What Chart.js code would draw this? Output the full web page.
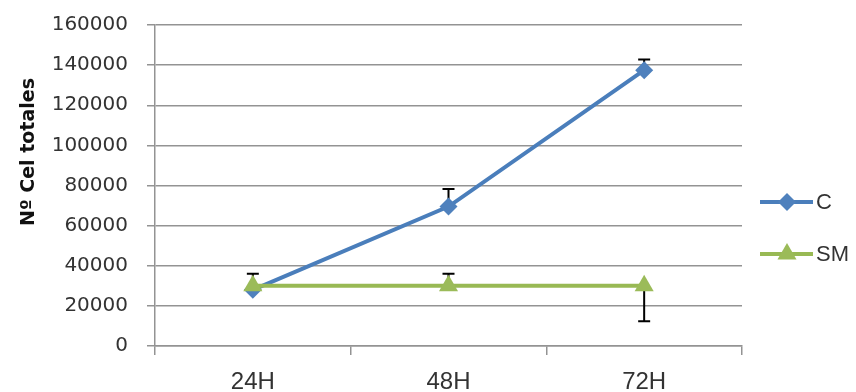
<!DOCTYPE html>
<html>
<head>
<meta charset="utf-8">
<title>Nº Cel totales</title>
<script src="https://cdn.jsdelivr.net/npm/chart.js@4/dist/chart.umd.min.js"></script>
<style>
  html, body { margin: 0; padding: 0; background: #fff; }
  #wrap { width: 856px; height: 392px; position: relative; }
</style>
</head>
<body>
<div id="wrap"><canvas id="cells"></canvas></div>
<script>
var categories = ['24H', '48H', '72H'];
var cValues = [28000, 69500, 137500];
var smValues = [30000, 30000, 30000];
// error bars, upper and lower arms
var cErrUp = [0, 8800, 5300];
var cErrDown = [0, 0, 0];
var smErrUp = [6000, 6000, 0];
var smErrDown = [0, 0, 17700];
var yTicks = [0, 20000, 40000, 60000, 80000, 100000, 120000, 140000, 160000];

(function () {
    'use strict';

    var FONT = 'DejaVu Sans';
    var TEXT = '#333333';
    var GRID = '#939393';

    var errors = [
        { up: cErrUp, down: cErrDown },
        { up: smErrUp, down: smErrDown }
    ];

    // black whiskers with caps, under the markers
    var errorBars = {
        id: 'errorBars',
        beforeDatasetsDraw: function (chart) {
            var ctx = chart.ctx, y = chart.scales.y;
            ctx.save();
            ctx.strokeStyle = '#000';
            ctx.lineWidth = 2;
            chart.data.datasets.forEach(function (ds, i) {
                var meta = chart.getDatasetMeta(i);
                meta.data.forEach(function (pt, j) {
                    var v = ds.data[j];
                    [errors[i].up[j], -errors[i].down[j]].forEach(function (e) {
                        if (!e) { return; }
                        var y0 = y.getPixelForValue(v), y1 = y.getPixelForValue(v + e);
                        ctx.beginPath();
                        ctx.moveTo(pt.x, y0);
                        ctx.lineTo(pt.x, y1);
                        ctx.moveTo(pt.x - 6, y1);
                        ctx.lineTo(pt.x + 6, y1);
                        ctx.stroke();
                    });
                });
            });
            ctx.restore();
        }
    };

    // rotated axis title and line+marker legend on the right
    var extras = {
        id: 'extras',
        afterDraw: function (chart) {
            var ctx = chart.ctx;
            ctx.save();
            ctx.fillStyle = '#111';
            ctx.font = 'bold 19px "' + FONT + '"';
            ctx.textAlign = 'center';
            ctx.textBaseline = 'middle';
            ctx.translate(29, 152);
            ctx.rotate(-Math.PI / 2);
            ctx.fillText('Nº Cel totales', 0, 0);
            ctx.restore();

            var rows = [202, 254];
            chart.data.datasets.forEach(function (ds, i) {
                var ly = rows[i];
                ctx.save();
                ctx.strokeStyle = ds.borderColor;
                ctx.lineWidth = ds.borderWidth;
                ctx.beginPath();
                ctx.moveTo(760, ly);
                ctx.lineTo(813, ly);
                ctx.stroke();
                ctx.fillStyle = ds.pointBackgroundColor;
                Chart.helpers.drawPoint(ctx, {
                    pointStyle: ds.pointStyle,
                    radius: ds.pointRadius,
                    borderWidth: 0
                }, 787, ly);
                ctx.fillStyle = TEXT;
                ctx.font = '22px "Liberation Sans"';
                ctx.textAlign = 'left';
                ctx.textBaseline = 'middle';
                ctx.fillText(ds.label, 816, ly + 1);
                ctx.restore();
            });
        }
    };

    var ctx = document.getElementById('cells').getContext('2d');
    new Chart(ctx, {
        type: 'line',
        data: {
            labels: categories,
            datasets: [{
                label: 'C',
                data: cValues,
                borderColor: '#4A7EBB',
                borderWidth: 4,
                pointStyle: 'rectRot',
                pointRadius: 9,
                pointBackgroundColor: '#4F81BD',
                pointBorderWidth: 0,
                tension: 0,
                order: 2
            }, {
                label: 'SM',
                data: smValues,
                borderColor: '#98B954',
                borderWidth: 4,
                pointStyle: 'triangle',
                pointRadius: 11,
                pointBackgroundColor: '#9BBB59',
                pointBorderWidth: 0,
                tension: 0,
                order: 1
            }]
        },
        options: {
            responsive: true,
            maintainAspectRatio: false,
            animation: false,
            layout: { padding: { top: 0, right: 114, bottom: 0, left: 0 } },
            plugins: {
                legend: { display: false },
                tooltip: { enabled: false }
            },
            scales: {
                x: {
                    offset: true,
                    grid: {
                        offset: true,
                        drawOnChartArea: false,
                        drawTicks: true,
                        tickLength: 9,
                        color: GRID,
                        lineWidth: 1.5
                    },
                    border: { color: GRID, width: 1.5 },
                    ticks: {
                        padding: 13,
                        color: TEXT,
                        font: { family: 'Liberation Sans', size: 24 }
                    },
                    afterFit: function (s) { s.height = 46; }
                },
                y: {
                    min: 0,
                    max: 160000,
                    afterBuildTicks: function (s) {
                        s.ticks = yTicks.map(function (v) { return { value: v }; });
                    },
                    grid: {
                        color: GRID,
                        lineWidth: 1.5,
                        tickLength: 8
                    },
                    border: { color: GRID, width: 1.5 },
                    ticks: {
                        padding: 19,
                        color: TEXT,
                        font: { family: FONT, size: 20 },
                        callback: function (v) { return String(v); }
                    },
                    afterFit: function (s) {
                        s.width = 155;
                        // top of plot sits at 160000 label centre
                        s.paddingTop = 25;
                        s.paddingBottom = 0;
                    }
                }
            }
        },
        plugins: [errorBars, extras]
    });
})();
</script>
</body>
</html>
